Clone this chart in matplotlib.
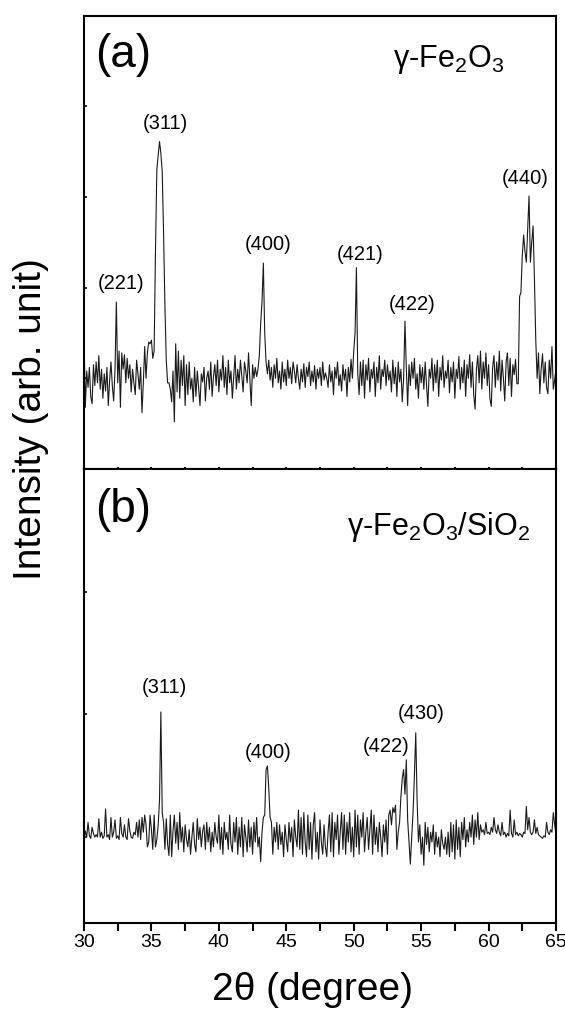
import numpy as np
import matplotlib
matplotlib.use('Agg')
import matplotlib.pyplot as plt

plt.rcParams['font.family'] = ['Liberation Sans', 'DejaVu Sans']
plt.rcParams['mathtext.fontset'] = 'custom'
plt.rcParams['mathtext.rm'] = 'Liberation Sans'
plt.rcParams['mathtext.it'] = 'Liberation Sans:italic'

# 2theta grid, 0.1 deg steps from 30 to 65
two_theta = np.round(np.arange(300, 651) / 10.0, 1)

# (a) gamma-Fe2O3, intensity (arb. unit, baseline ~100)
inten_a = [
    146, 68, 108, 90, 112, 80, 72, 115, 92, 118,      # 30
    95, 125, 88, 110, 78, 105, 86, 112, 70, 98,       # 31
    118, 92, 75, 110, 184, 95, 130, 68, 128, 110,     # 32
    126, 95, 122, 100, 115, 85, 110, 95, 82, 120,     # 33
    105, 88, 112, 62, 95, 135, 100, 128, 140, 138,    # 34
    142, 122, 130, 240, 330, 345, 361, 348, 328, 260, # 35
    180, 120, 95, 95, 88, 74, 108, 52, 138, 85,       # 36
    130, 78, 120, 92, 125, 70, 115, 82, 118, 88,      # 37
    100, 74, 112, 80, 108, 90, 70, 105, 96, 112,      # 38
    75, 100, 108, 88, 118, 80, 102, 115, 92, 120,     # 39
    85, 110, 98, 125, 90, 112, 82, 120, 95, 108,      # 40
    78, 102, 125, 88, 110, 95, 120, 102, 85, 118,     # 41
    108, 95, 128, 98, 70, 115, 100, 112, 102, 110,    # 42
    125, 160, 185, 227, 150, 118, 105, 120, 98, 112,  # 43
    90, 115, 100, 122, 95, 108, 88, 118, 96, 110,     # 44
    92, 120, 100, 112, 94, 118, 108, 95, 115, 100,    # 45
    88, 110, 96, 116, 90, 112, 102, 118, 92, 108,     # 46
    96, 114, 88, 110, 100, 112, 92, 118, 98, 106,     # 47
    100, 90, 115, 96, 108, 82, 112, 100, 118, 92,     # 48
    104, 86, 115, 98, 110, 80, 112, 96, 121, 100,     # 49
    130, 150, 222, 105, 82, 118, 92, 120, 78, 115,    # 50
    98, 122, 85, 110, 100, 118, 80, 112, 95, 125,     # 51
    88, 110, 102, 120, 92, 115, 98, 108, 85, 120,     # 52
    94, 112, 80, 118, 96, 110, 74, 100, 163, 112,     # 53
    70, 115, 92, 118, 100, 122, 88, 105, 78, 115,     # 54
    95, 112, 88, 118, 92, 69, 110, 100, 122, 86,      # 55
    115, 95, 120, 80, 112, 98, 125, 90, 108, 100,     # 56
    120, 84, 112, 96, 118, 78, 110, 100, 124, 88,     # 57
    112, 95, 120, 80, 115, 100, 126, 90, 118, 82,     # 58
    66, 110, 125, 95, 130, 88, 118, 100, 128, 92,     # 59
    115, 78, 69, 112, 125, 90, 118, 98, 130, 86,      # 60
    120, 100, 75, 118, 128, 92, 122, 80, 115, 104,    # 61
    121, 94, 94, 190, 195, 235, 258, 240, 228, 265,   # 62
    301, 228, 250, 268, 210, 142, 100, 128, 83, 110,  # 63
    127, 95, 118, 90, 83, 120, 100, 135, 88, 98,      # 64
    110,                                              # 65
]

# (b) gamma-Fe2O3/SiO2
inten_b = [
    98, 105, 100, 112, 101, 99, 108, 103, 100, 102,   # 30
    100, 115, 100, 104, 99, 101, 123, 100, 102, 98,   # 31
    116, 100, 104, 114, 99, 101, 98, 116, 103, 100,   # 32
    110, 100, 98, 115, 105, 100, 99, 104, 102, 112,   # 33
    100, 114, 98, 116, 104, 118, 110, 92, 96, 118,    # 34
    106, 90, 118, 92, 98, 110, 130, 202, 120, 112,    # 35
    90, 115, 94, 85, 118, 84, 105, 118, 95, 112,      # 36
    90, 120, 96, 108, 88, 110, 98, 92, 106, 86,       # 37
    100, 112, 94, 88, 115, 98, 108, 92, 105, 110,     # 38
    90, 112, 96, 108, 88, 104, 92, 112, 100, 95,      # 39
    118, 90, 108, 86, 112, 98, 104, 90, 118, 94,      # 40
    88, 112, 96, 116, 86, 108, 92, 116, 84, 110,      # 41
    100, 88, 114, 92, 108, 86, 112, 96, 116, 92,      # 42
    100, 80, 104, 116, 118, 155, 158, 140, 116, 112,  # 43
    86, 108, 96, 112, 90, 110, 94, 104, 84, 110,      # 44
    98, 88, 112, 96, 108, 84, 114, 100, 92, 122,      # 45
    90, 116, 86, 120, 96, 84, 118, 90, 112, 82,       # 46
    110, 120, 88, 104, 82, 114, 96, 86, 110, 92,      # 47
    84, 104, 118, 88, 120, 84, 112, 98, 118, 86,      # 48
    104, 120, 90, 118, 86, 112, 96, 120, 88, 108,     # 49
    84, 122, 92, 118, 86, 114, 100, 120, 88, 104,     # 50
    116, 90, 106, 122, 86, 118, 94, 108, 88, 112,     # 51
    100, 84, 110, 96, 114, 86, 118, 122, 110, 124,    # 52
    120, 126, 90, 104, 112, 133, 148, 155, 135, 163,  # 53
    114, 96, 78, 100, 120, 150, 185, 130, 96, 110,    # 54
    86, 100, 77, 112, 94, 108, 88, 104, 96, 110,      # 55
    86, 104, 92, 100, 84, 106, 95, 90, 100, 86,       # 56
    104, 84, 112, 88, 110, 82, 114, 90, 108, 84,      # 57
    112, 98, 116, 92, 106, 96, 112, 100, 118, 94,     # 58
    114, 100, 120, 98, 110, 104, 106, 102, 112, 103,  # 59
    104, 102, 108, 104, 116, 106, 103, 110, 104, 101, # 60
    112, 102, 104, 100, 103, 101, 122, 103, 100, 114, # 61
    102, 104, 101, 103, 102, 100, 104, 103, 125, 106, # 62
    116, 104, 102, 104, 114, 103, 108, 102, 101, 100, # 63
    99, 101, 100, 112, 104, 102, 106, 104, 120, 110,  # 64
    102,                                              # 65
]

# peak labels: (text, x, y)
peaks_a = [('(221)', 32.74, 204), ('(311)', 36.0, 381), ('(400)', 43.64, 248),
           ('(421)', 50.46, 237), ('(422)', 54.31, 181), ('(440)', 62.69, 320)]
peaks_b = [('(311)', 35.93, 222), ('(400)', 43.64, 169),
           ('(422)', 52.39, 174), ('(430)', 54.98, 201)]

fig = plt.figure(figsize=(5.65, 10.1), dpi=100)
ax_a = fig.add_axes([84 / 565, 1 - 469 / 1010, 472 / 565, 453.5 / 1010])
ax_b = fig.add_axes([84 / 565, 1 - 923 / 1010, 472 / 565, 454 / 1010], sharex=ax_a)

line_kw = dict(color='#1a1a1a', lw=0.8)
ax_a.plot(two_theta, inten_a, **line_kw)
ax_b.plot(two_theta, inten_b, **line_kw)

ax_a.set_ylim(0, 500)
ax_a.set_yticks([100, 200, 300, 400])
ax_b.set_ylim(30, 400)
ax_b.set_yticks([100, 200, 300])

ax_b.set_xlim(30, 65)
ax_b.set_xticks(np.arange(30, 66, 5))
ax_b.set_xticks(np.arange(32.5, 65, 5), minor=True)

for ax in (ax_a, ax_b):
    for sp in ax.spines.values():
        sp.set_linewidth(1.5)
    ax.tick_params(axis='y', which='both', direction='in', length=2.5, width=1.2,
                   labelleft=False)

ax_a.tick_params(axis='x', which='both', direction='inout', length=2.5, width=1.5,
                 labelbottom=False)
ax_b.tick_params(axis='x', which='both', direction='out', length=6, width=1.5,
                 labelsize=14, pad=2)
ax_b.set_xticklabels([str(v) for v in range(30, 66, 5)])

for txt, x, y in peaks_a:
    ax_a.text(x, y, txt, fontsize=14.5, ha='center', va='center')
for txt, x, y in peaks_b:
    ax_b.text(x, y, txt, fontsize=14.5, ha='center', va='center')

ax_a.text(0.023, 0.913, '(a)', fontsize=33, transform=ax_a.transAxes, ha='left', va='center')
ax_b.text(0.023, 0.910, '(b)', fontsize=33, transform=ax_b.transAxes, ha='left', va='center')
ax_a.text(0.655, 0.886, '\u03b3-Fe$_2$O$_3$', fontsize=22,
          transform=ax_a.transAxes, ha='left', va='baseline')
ax_b.text(0.557, 0.855, '\u03b3-Fe$_2$O$_3$/SiO$_2$', fontsize=22,
          transform=ax_b.transAxes, ha='left', va='baseline')

fig.text(312 / 565, 1 - 1000 / 1010, '2\u03b8 (degree)', fontsize=28,
         ha='center', va='baseline')
fig.text(13 / 565, 1 - 580 / 1010, 'Intensity (arb. unit)', fontsize=28,
         rotation=90, ha='left', va='bottom')

fig.savefig('out.png', dpi=100)
